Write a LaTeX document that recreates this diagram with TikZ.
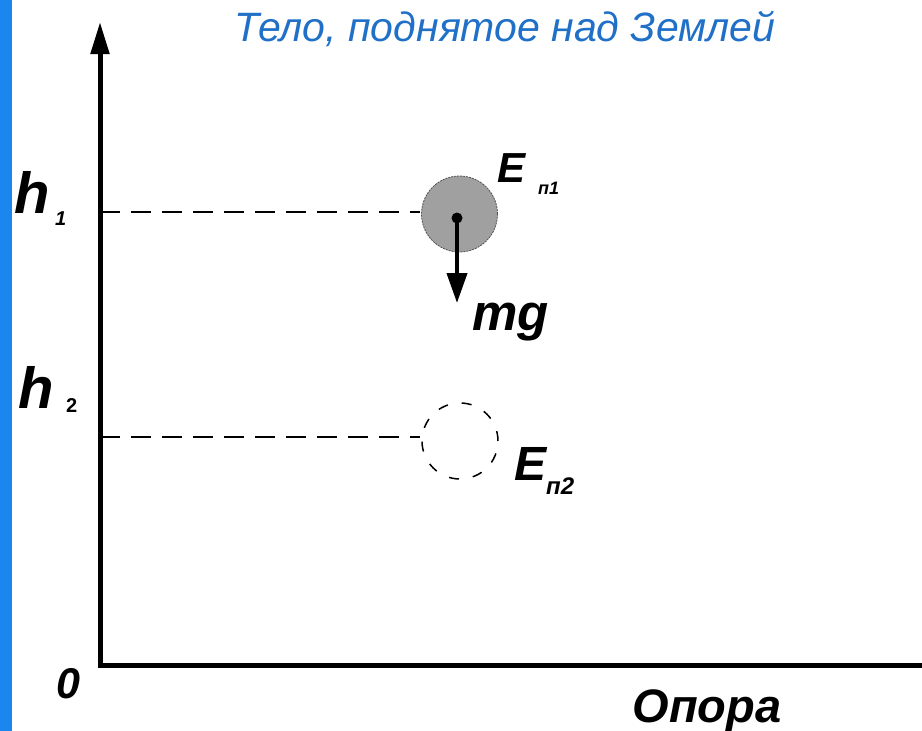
\documentclass[tikz,border=0pt]{standalone}
\usepackage{fontspec}
\setmainfont{Liberation Sans}
\usetikzlibrary{arrows.meta}
\definecolor{stripblue}{HTML}{1A86EE}
\definecolor{titleblue}{HTML}{2070C8}
\definecolor{ballgray}{HTML}{A0A0A0}
\definecolor{rimgray}{HTML}{505050}
\newcommand{\fs}[1]{\fontsize{#1}{#1}\selectfont}
\begin{document}
\begin{tikzpicture}[x=1pt,y=-1pt,
  axis/.style={line width=5pt, line join=miter},
  guide/.style={line width=1.5pt, dash pattern=on 20pt off 11pt},
  lbl/.style={inner sep=0pt, font=\bfseries\itshape},
]
\useasboundingbox (0,0) rectangle (922,731);
\fill[white] (0,0) rectangle (922,731);
\fill[stripblue] (0,0) rectangle (12,731);

% axes
\coordinate (top) at (100,22);
\coordinate (O) at (100,665);
\coordinate (right) at (925,665);
\draw[axis, {Triangle[length=32pt,width=18pt]}-] (top) -- (O) -- (right);

% title
\node[inner sep=0pt, anchor=base, text=titleblue, font=\itshape\fs{41}] (title) at (505,41) {Тело, поднятое над Землей};

% guides
\coordinate (g1a) at (100,212);
\coordinate (g1b) at (420,212);
\coordinate (g2a) at (100,437);
\coordinate (g2b) at (420,437);
\draw[guide] (g1a) -- (g1b);
\draw[guide] (g2a) -- (g2b);

% ball 1
\node[circle, minimum size=76pt, inner sep=0pt, fill=ballgray, draw=rimgray, line width=0.8pt, dash pattern=on 2pt off 1pt] (b1) at (459.5,214) {};
\node[circle, fill=black, minimum size=11pt, inner sep=0pt] (c1) at (457,218) {};
\coordinate (tip1) at (457,303);
\draw[line width=4pt, -{Triangle[length=30pt,width=20pt]}] (c1.center) -- (tip1);

% ball 2
\node[circle, minimum size=76pt, inner sep=0pt, draw, line width=1.5pt, dash pattern=on 10pt off 14pt] (b2) at (460,441) {};

% labels
\node[lbl, anchor=base west, font=\bfseries\itshape\fs{58}] (h1) at (14,213) {h};
\node[lbl, anchor=base west, font=\bfseries\itshape\fs{20}] (h1s) at (55,225) {1};
\node[lbl, anchor=base west, font=\bfseries\itshape\fs{58}] (h2) at (18,408) {h};
\node[lbl, anchor=base west, font=\bfseries\fs{20}] (h2s) at (66,412) {2};

\node[lbl, anchor=base west, font=\bfseries\itshape\fs{42}] (E1) at (497,182) {E};
\node[lbl, anchor=base west, font=\bfseries\itshape\fs{18}] (E1s) at (538,194) {п1};
\node[lbl, anchor=base west, font=\bfseries\itshape\fs{51}] (mg) at (472,330) {mg};
\node[lbl, anchor=base west, font=\bfseries\itshape\fs{48}] (E2) at (514,480) {E};
\node[lbl, anchor=base west, font=\bfseries\itshape\fs{24}] (E2s) at (546,494) {п2};

\node[lbl, anchor=base west, font=\bfseries\itshape\fs{43}] (zero) at (56,698) {0};
\node[lbl, anchor=base, font=\bfseries\itshape\fs{47}] (opora) at (707,722) {Опора};
\end{tikzpicture}
\end{document}
